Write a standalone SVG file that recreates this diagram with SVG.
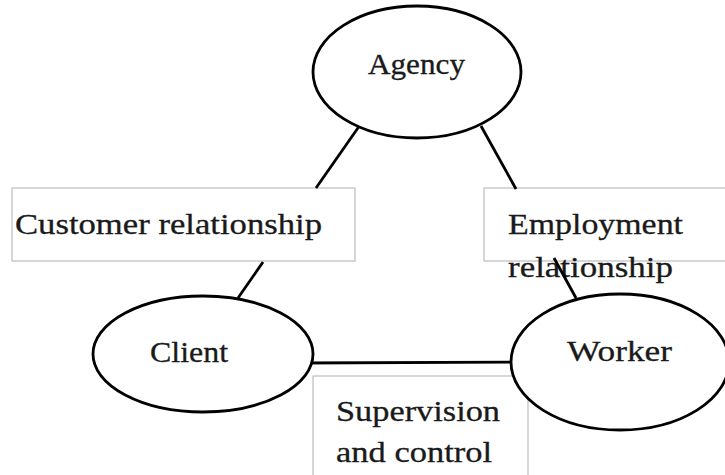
<svg xmlns="http://www.w3.org/2000/svg" width="725" height="475" viewBox="0 0 725 475">
<style>
.box{fill:#fff;stroke:#bdbdbd;stroke-width:1.2}
.node{fill:#fff;stroke:#000;stroke-width:2.8}
.lbl{font-family:"Liberation Serif","DejaVu Serif",serif;font-size:29px;fill:#1a1a1a;stroke:#1a1a1a;stroke-width:0.3}
.conn{stroke:#000;stroke-width:2.8;fill:none}
</style>
<g id="box-customer"><rect class="box" x="12" y="188" width="343" height="73"/><text class="lbl" x="15" y="234" textLength="307" lengthAdjust="spacingAndGlyphs">Customer relationship</text></g>
<g id="box-employment"><rect class="box" x="484" y="188" width="245" height="73"/><text class="lbl" x="508" y="234" textLength="175" lengthAdjust="spacingAndGlyphs">Employment</text><text class="lbl" x="508" y="277" textLength="165" lengthAdjust="spacingAndGlyphs">relationship</text></g>
<g id="box-supervision"><rect class="box" x="313" y="376" width="215" height="110"/><text class="lbl" x="336" y="421" textLength="164" lengthAdjust="spacingAndGlyphs">Supervision</text><text class="lbl" x="336" y="462" textLength="156" lengthAdjust="spacingAndGlyphs">and control</text></g>
<g id="connectors">
<line class="conn" x1="360" y1="125" x2="316" y2="188"/>
<line class="conn" x1="263" y1="262" x2="238" y2="298"/>
<line class="conn" x1="481" y1="126" x2="516" y2="189"/>
<line class="conn" x1="554" y1="258" x2="576" y2="298"/>
<line class="conn" x1="300" y1="363" x2="520" y2="362"/>
</g>
<g id="agency"><ellipse class="node" cx="417" cy="72" rx="104" ry="66"/><text class="lbl" x="368" y="74" textLength="97" lengthAdjust="spacingAndGlyphs">Agency</text></g>
<g id="client"><ellipse class="node" cx="203" cy="354" rx="110" ry="58"/><text class="lbl" x="150" y="362" textLength="78" lengthAdjust="spacingAndGlyphs">Client</text></g>
<g id="worker"><ellipse class="node" cx="620" cy="362" rx="109" ry="68"/><text class="lbl" x="567" y="361" textLength="105" lengthAdjust="spacingAndGlyphs">Worker</text></g>
</svg>
